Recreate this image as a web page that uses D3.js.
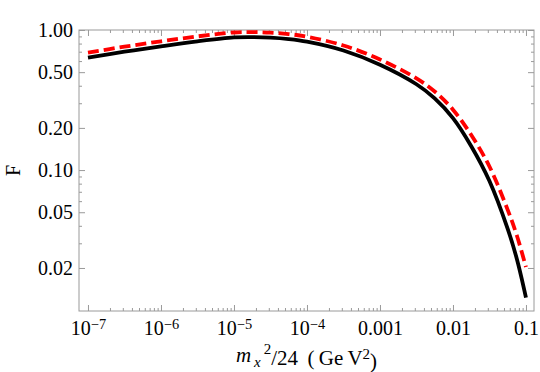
<!DOCTYPE html>
<html>
<head>
<meta charset="utf-8">
<script src="https://cdn.jsdelivr.net/npm/d3@7"></script>
<style>
    body { margin: 0; background: #fff; }
    text { font-family: "Liberation Serif", "Times New Roman", serif; }
</style>
</head>
<body>
<div id="chart"></div>
<script>
// values (log-log)
const massScale = [1e-7, 3.16e-7, 1e-6, 3.16e-6, 1e-5, 1.78e-5, 3.16e-5, 5.62e-5, 1e-4, 3.16e-4,
    1e-3, 3.16e-3, 5.62e-3, 0.01, 0.0178, 0.0316, 0.0562, 0.075, 0.1];
const fSolid = [0.636, 0.70, 0.765, 0.83, 0.885, 0.89, 0.883, 0.862, 0.826, 0.714,
    0.565, 0.41, 0.325, 0.235, 0.148, 0.0835, 0.038, 0.0232, 0.0123];
const fDashed = [0.69, 0.76, 0.83, 0.90, 0.96, 0.966, 0.958, 0.935, 0.896, 0.775,
    0.616, 0.451, 0.364, 0.270, 0.178, 0.106, 0.052, 0.0341, 0.0203];

const xTicks = [1e-7, 1e-6, 1e-5, 1e-4, 1e-3, 0.01, 0.1];
const xTickLabels = [["10", "\u22127"], ["10", "\u22126"], ["10", "\u22125"], ["10", "\u22124"], ["0.001"], ["0.01"], ["0.1"]];
const yTicks = [1, 0.5, 0.2, 0.1, 0.05, 0.02];
const yTickLabels = ["1.00", "0.50", "0.20", "0.10", "0.05", "0.02"];
const yMinor = [0.9, 0.8, 0.7, 0.6, 0.4, 0.3, 0.09, 0.08, 0.07, 0.06, 0.04, 0.03];

const width = 540, height = 372;
const plotLeft = 79, plotRight = 534, plotTop = 30, plotBottom = 311;
const frameColor = "#9a9a9a";
const fontSize = 20;

const svg = d3.select("#chart").append("svg")
    .attr("width", width)
    .attr("height", height);

const x = d3.scaleLog()
    .domain([Math.pow(10, -7.123), Math.pow(10, -0.89)])
    .range([plotLeft, plotRight]);
const y = d3.scaleLog()
    .domain([0.00986, 1.0])
    .range([plotBottom, plotTop]);

// minor ticks in x: 2..9 in each decade
let xMinor = [];
for (let d = -7; d <= -1; d++) {
    for (let k = 2; k <= 9; k++) {
        let v = k * Math.pow(10, d);
        if (v <= x.domain()[1]) xMinor.push(v);
    }
}

const styleAxis = g => {
    g.select(".domain").remove();
    g.selectAll("line").attr("stroke", frameColor);
};

// frame
svg.append("rect")
    .attr("x", plotLeft).attr("y", plotTop)
    .attr("width", plotRight - plotLeft).attr("height", plotBottom - plotTop)
    .attr("fill", "none")
    .attr("stroke", frameColor)
    .attr("stroke-width", 1);

// bottom axis
svg.append("g")
    .attr("transform", `translate(0, ${plotBottom})`)
    .call(d3.axisBottom(x).tickValues(xMinor).tickSize(-3).tickFormat(""))
    .call(styleAxis);
const xAxisG = svg.append("g")
    .attr("transform", `translate(0, ${plotBottom})`)
    .call(d3.axisBottom(x).tickValues(xTicks).tickSize(-6).tickPadding(10).tickFormat(""))
    .call(styleAxis);
xAxisG.selectAll(".tick text").each(function(d, i) {
    const t = d3.select(this)
        .attr("fill", "#000")
        .attr("font-size", fontSize);
    const parts = xTickLabels[i];
    t.append("tspan").text(parts[0]);
    if (parts.length > 1) {
        t.append("tspan")
            .attr("dy", "-0.42em")
            .attr("font-size", fontSize * 0.72)
            .text(parts[1]);
    }
});

// top axis
svg.append("g")
    .attr("transform", `translate(0, ${plotTop})`)
    .call(d3.axisTop(x).tickValues(xMinor).tickSize(-3).tickFormat(""))
    .call(styleAxis);
svg.append("g")
    .attr("transform", `translate(0, ${plotTop})`)
    .call(d3.axisTop(x).tickValues(xTicks).tickSize(-6).tickFormat(""))
    .call(styleAxis);

// left axis
svg.append("g")
    .attr("transform", `translate(${plotLeft}, 0)`)
    .call(d3.axisLeft(y).tickValues(yMinor).tickSize(-3).tickFormat(""))
    .call(styleAxis);
svg.append("g")
    .attr("transform", `translate(${plotLeft}, 0)`)
    .call(d3.axisLeft(y).tickValues(yTicks).tickSize(-6).tickPadding(6)
        .tickFormat((d, i) => yTickLabels[i]))
    .call(styleAxis)
    .selectAll("text")
    .attr("fill", "#000")
    .attr("font-size", fontSize);

// right axis
svg.append("g")
    .attr("transform", `translate(${plotRight}, 0)`)
    .call(d3.axisRight(y).tickValues(yMinor).tickSize(-3).tickFormat(""))
    .call(styleAxis);
svg.append("g")
    .attr("transform", `translate(${plotRight}, 0)`)
    .call(d3.axisRight(y).tickValues(yTicks).tickSize(-6).tickFormat(""))
    .call(styleAxis);

// curves
const line = d3.line()
    .x(d => x(d[0]))
    .y(d => y(d[1]))
    .curve(d3.curveCatmullRom.alpha(0.5));

svg.append("path")
    .datum(d3.zip(massScale, fSolid))
    .attr("d", line)
    .attr("fill", "none")
    .attr("stroke", "#000")
    .attr("stroke-width", 3.8);

svg.append("path")
    .datum(d3.zip(massScale, fDashed))
    .attr("d", line)
    .attr("fill", "none")
    .attr("stroke", "#ff0000")
    .attr("stroke-width", 3.8)
    .attr("stroke-dasharray", "11,5");

// axis titles
svg.append("text")
    .attr("transform", `translate(13, ${(plotTop + plotBottom) / 2}) rotate(-90)`)
    .attr("text-anchor", "middle")
    .attr("dy", "0.35em")
    .attr("font-size", fontSize)
    .text("F");

const xt = svg.append("text")
    .attr("x", (plotLeft + plotRight) / 2)
    .attr("y", 362)
    .attr("text-anchor", "middle")
    .attr("font-size", 21);
xt.append("tspan").attr("font-style", "italic").text("m");
xt.append("tspan").attr("font-style", "italic").attr("dy", "0.3em")
    .attr("font-size", 15).text("\u2009x");
xt.append("tspan").attr("dy", "-0.85em")
    .attr("font-size", 15).text("\u20092");
xt.append("tspan").attr("dy", "0.55em").text("/24 \u2009(\u2009Ge\u2009V");
xt.append("tspan").attr("dy", "-0.42em")
    .attr("font-size", 15).text("2");
xt.append("tspan").attr("dy", "0.42em").text(")");
</script>
</body>
</html>
